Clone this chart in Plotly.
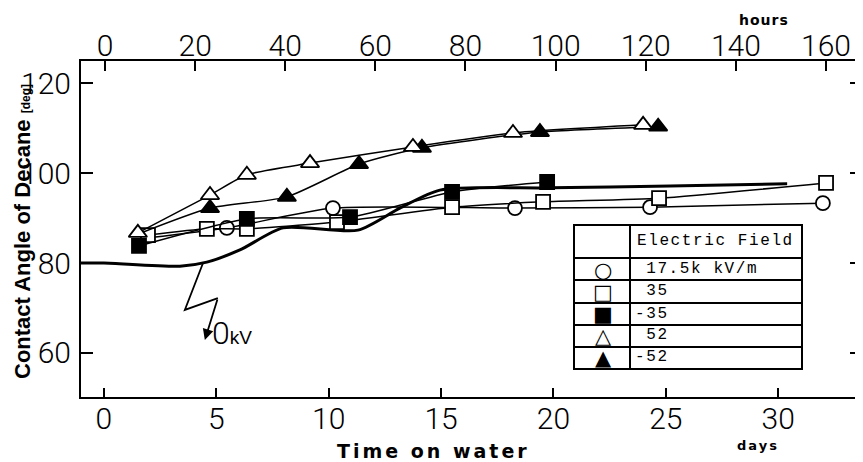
import plotly.graph_objects as go

# ---------------- data ----------------
# time on water in days, contact angle in degrees
circle_days = [1.96, 5.47, 10.19, 18.29, 24.30, 31.99]
circle_vals = [85.6, 87.8, 92.2, 92.2, 92.4, 93.3]

sq_open_days = [1.96, 4.58, 6.36, 10.37, 15.49, 19.54, 24.70, 32.13]
sq_open_vals = [86.2, 87.6, 87.6, 89.1, 92.4, 93.6, 94.4, 97.8]

sq_fill_days = [1.56, 6.36, 10.95, 15.49, 19.72]
sq_fill_vals = [83.8, 89.8, 90.2, 95.8, 98.0]

tri_open_days = [1.51, 4.72, 6.36, 9.17, 13.75, 18.20, 23.99]
tri_open_vals = [86.7, 95.1, 99.6, 102.2, 105.8, 108.9, 110.7]

tri_fill_days = [1.51, 4.72, 8.14, 11.35, 14.15, 19.40, 24.66]
tri_fill_vals = [86.4, 92.2, 94.7, 102.0, 105.6, 109.1, 110.3]

zero_kv_days = [-1.02, 0.0, 3.38, 4.58, 6.05, 7.97, 11.30, 13.17, 14.95, 19.85, 25.19, 30.40]
zero_kv_vals = [80.0, 80.0, 79.3, 80.2, 82.9, 87.8, 87.3, 92.2, 96.2, 96.7, 97.1, 97.6]

day_ticks = [0, 5, 10, 15, 20, 25, 30]
hour_ticks = [0, 20, 40, 60, 80, 100, 120, 140, 160]
angle_ticks = [60, 80, 100, 120]

legend_symbols = ["○", "□", "■", "△", "▲"]
legend_labels = ["\u00a017.5k kV/m", "\u00a035", "-35", "\u00a052", "-52"]
legend_header = "Electric Field"

# ---------------- layout helpers ----------------
# the page body has an 8px margin, so the figure is sized to fill the rest of the window
OFF = 8
PAGE_W, PAGE_H = 863, 462
W, H = PAGE_W - OFF, PAGE_H - OFF
# plot area in page pixels
P_L, P_R, P_T, P_B = 81, 862, 61, 397
ML, MR, MT, MB = P_L - OFF, PAGE_W - P_R, P_T - OFF, PAGE_H - P_B
PW, PH = P_R - P_L, P_B - P_T


def px(x):
    return (x - P_L) / PW


def py(y):
    return (P_B - y) / PH


BLACK = "#000000"
TICKFAMILY = "Roboto, Liberation Sans, sans-serif"
TICKFONT = dict(family=TICKFAMILY, size=30, color=BLACK, weight=300)

fig = go.Figure()

# 0 kV reference curve
fig.add_trace(go.Scatter(x=zero_kv_days, y=zero_kv_vals, mode="lines",
                         line=dict(color=BLACK, width=3, shape="spline", smoothing=0.7),
                         showlegend=False, hoverinfo="skip"))


def series(xs, ys, symbol, fill, size, hidden_first=False):
    sizes = [size] * len(xs)
    if hidden_first:
        sizes[0] = 0
    fig.add_trace(go.Scatter(
        x=xs, y=ys, mode="lines+markers",
        line=dict(color=BLACK, width=1.5, shape="spline", smoothing=0.6),
        marker=dict(symbol=symbol, size=sizes, color=BLACK if fill else "#ffffff",
                    opacity=1, line=dict(color=BLACK, width=1.8)),
        showlegend=False))


series(circle_days, circle_vals, "circle", False, 14, hidden_first=True)
series(sq_open_days, sq_open_vals, "square", False, 14)
series(tri_fill_days, tri_fill_vals, "triangle-up", True, 16, hidden_first=True)
series(tri_open_days, tri_open_vals, "triangle-up", False, 16)
series(sq_fill_days, sq_fill_vals, "square", True, 14)

# empty trace to carry the top (hours) axis
fig.add_trace(go.Scatter(x=[None], y=[None], xaxis="x2", showlegend=False, hoverinfo="skip"))

fig.update_layout(
    width=W, height=H,
    margin=dict(l=ML, r=MR, t=MT, b=MB, autoexpand=False),
    paper_bgcolor="white", plot_bgcolor="white",
    showlegend=False,
    xaxis=dict(range=[-1.02, 33.73], tickvals=day_ticks, ticks="inside", ticklen=9,
               tickwidth=2, tickcolor=BLACK, showline=True, linecolor=BLACK, linewidth=2,
               showgrid=False, zeroline=False, tickfont=TICKFONT, ticklabelstandoff=-6,
               automargin=False),
    xaxis2=dict(range=[-5.33, 168.0], tickvals=hour_ticks, overlaying="x", side="top",
                anchor="y", ticks="inside", ticklen=10, tickwidth=2, tickcolor=BLACK,
                showline=True, linecolor=BLACK, linewidth=2, showgrid=False,
                zeroline=False, tickfont=TICKFONT, ticklabelstandoff=-9, automargin=False),
    yaxis=dict(range=[50.22, 124.89], tickvals=angle_ticks, ticks="inside", ticklen=12,
               tickwidth=2, tickcolor=BLACK, showline=True, linecolor=BLACK, linewidth=2,
               mirror="ticks", showgrid=False, zeroline=False, tickfont=TICKFONT,
               ticklabelstandoff=2, automargin=False),
)

ann = []
# axis titles
ann.append(dict(xref="paper", yref="paper", x=px(22), y=py(232), textangle=-90,
                text="<b>Contact Angle of Decane <span style='font-size:12px'>[deg]</span></b>",
                showarrow=False, font=dict(family="Liberation Sans, Arial", size=22, color=BLACK),
                xanchor="center", yanchor="middle"))
ann.append(dict(xref="paper", yref="paper", x=px(433), y=py(451),
                text="<b><span style='letter-spacing:3px'>Time on water</span></b>",
                showarrow=False, font=dict(family="DejaVu Sans", size=19, color=BLACK),
                xanchor="center", yanchor="middle"))
ann.append(dict(xref="paper", yref="paper", x=px(758), y=py(445),
                text="<b><span style='letter-spacing:2px'>days</span></b>", showarrow=False,
                font=dict(family="DejaVu Sans", size=13, color=BLACK),
                xanchor="center", yanchor="middle"))
ann.append(dict(xref="paper", yref="paper", x=px(764), y=py(20),
                text="<b><span style='letter-spacing:1px'>hours</span></b>", showarrow=False,
                font=dict(family="DejaVu Sans", size=14, color=BLACK),
                xanchor="center", yanchor="middle"))

# 0 kV label with zig-zag arrow
ann.append(dict(x=4.49, y=62.9, ax=5.07, ay=72.2, axref="x", ayref="y", xref="x", yref="y",
                showarrow=True, arrowhead=2, arrowsize=1.2, arrowwidth=1.8, arrowcolor=BLACK,
                text=""))
ann.append(dict(x=4.70, y=64.4, xref="x", yref="y", xanchor="left", yanchor="middle",
                showarrow=False,
                text="0<span style='font-size:19px;font-family:Liberation Sans;font-weight:400'>kV</span>",
                font=dict(family=TICKFAMILY, size=32, color=BLACK, weight=300)))

shapes = [dict(type="path", xref="x", yref="y",
               path="M 4.41,80.0 L 3.60,69.56 L 5.07,72.2",
               line=dict(color=BLACK, width=1.8))]

# legend table
LX0, LX1, LX2 = 574, 630, 802
row_y = [225, 258, 280, 303, 325, 347, 369]
shapes.append(dict(type="rect", xref="paper", yref="paper", x0=px(LX0), x1=px(LX2),
                   y0=py(row_y[-1]), y1=py(row_y[0]), line=dict(color=BLACK, width=2),
                   fillcolor="white", layer="above"))
shapes.append(dict(type="line", xref="paper", yref="paper", x0=px(LX1), x1=px(LX1),
                   y0=py(row_y[-1]), y1=py(row_y[0]), line=dict(color=BLACK, width=2)))
for yy in row_y[1:-1]:
    shapes.append(dict(type="line", xref="paper", yref="paper", x0=px(LX0), x1=px(LX2),
                       y0=py(yy), y1=py(yy), line=dict(color=BLACK, width=2)))

MONO = dict(family="Liberation Mono, DejaVu Sans Mono, monospace", size=16, color=BLACK)
ann.append(dict(xref="paper", yref="paper", x=px(635), y=py(241), xanchor="left",
                yanchor="middle", showarrow=False,
                text=f"<span style='letter-spacing:1.6px'>{legend_header}</span>", font=MONO))
text_y = [269, 291, 314, 335, 357]
sym_y = [270, 292, 314, 336, 358]
for sym, lab, ty, sy in zip(legend_symbols, legend_labels, text_y, sym_y):
    ann.append(dict(xref="paper", yref="paper", x=px(603), y=py(sy), xanchor="center",
                    yanchor="middle", showarrow=False, text=sym,
                    font=dict(family="DejaVu Sans", size=21, color=BLACK)))
    ann.append(dict(xref="paper", yref="paper", x=px(633), y=py(ty), xanchor="left",
                    yanchor="middle", showarrow=False,
                    text=f"<span style='letter-spacing:1.6px'>{lab}</span>", font=MONO))

fig.update_layout(annotations=ann, shapes=shapes)
fig.write_html("out.html")
